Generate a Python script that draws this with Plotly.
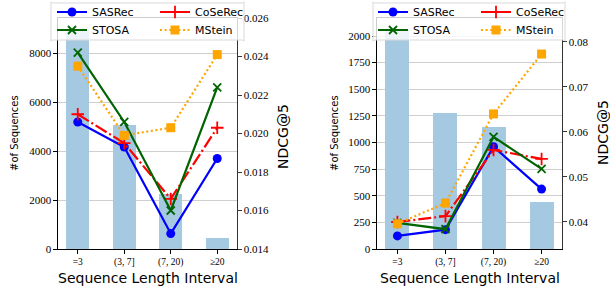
import plotly.graph_objects as go

categories = ["=3", "(3, 7]", "(7, 20)", "≥20"]

left_counts = [8940, 5060, 2245, 450]
left_sasrec = [0.0206, 0.0193, 0.0148, 0.0187]
left_coserec = [0.0210, 0.0195, 0.0166, 0.0203]
left_stosa = [0.0242, 0.0206, 0.0160, 0.0224]
left_mstein = [0.0235, 0.0199, 0.0203, 0.0241]

right_counts = [2056, 1277, 1146, 441]
right_sasrec = [0.0369, 0.0383, 0.0567, 0.0473]
right_coserec = [0.0400, 0.0413, 0.0560, 0.0540]
right_stosa = [0.0398, 0.0384, 0.0589, 0.0518]
right_mstein = [0.0396, 0.0442, 0.0640, 0.0773]

W, H = 610, 297
SERIF = "Liberation Serif, DejaVu Serif, serif"
SANS = "DejaVu Sans, sans-serif"

styles = {
    "SASRec": dict(color="#0000ff", dash="solid", symbol="circle", size=9),
    "CoSeRec": dict(color="#ff0000", dash="13px,3px,2px,3px", symbol="cross-thin", size=9),
    "STOSA": dict(color="#006400", dash="solid", symbol="x-thin", size=8),
    "MStein": dict(color="#ffa500", dash="2px,2.6px", symbol="square", size=9),
}

fig = go.Figure()


def px_x(p):
    return p / W


def px_y(p):
    return 1 - p / H


panels = [
    dict(counts=left_counts, series={"SASRec": left_sasrec, "CoSeRec": left_coserec,
                                     "STOSA": left_stosa, "MStein": left_mstein},
         xa="x", ya="y", ya2="y2", legs=("legend", "legend2")),
    dict(counts=right_counts, series={"SASRec": right_sasrec, "CoSeRec": right_coserec,
                                      "STOSA": right_stosa, "MStein": right_mstein},
         xa="x2", ya="y3", ya2="y4", legs=("legend3", "legend4")),
]

for p in panels:
    fig.add_trace(go.Bar(x=categories, y=p["counts"], xaxis=p["xa"], yaxis=p["ya"],
                         marker=dict(color="#a6c9e2", line=dict(width=0)), width=0.5,
                         showlegend=False))
    for i, (name, vals) in enumerate(p["series"].items()):
        s = styles[name]
        mk = dict(symbol=s["symbol"], size=s["size"], color=s["color"])
        if s["symbol"] in ("cross-thin", "x-thin"):
            mk["line"] = dict(width=1.8, color=s["color"])
        fig.add_trace(go.Scatter(
            x=categories, y=vals, xaxis=p["xa"], yaxis=p["ya2"], name=name,
            mode="lines+markers", line=dict(color=s["color"], width=2.2, dash=s["dash"]),
            marker=mk, legend=p["legs"][0] if name in ("SASRec", "CoSeRec") else p["legs"][1],
        ))

ydom = [px_y(249), px_y(18)]
tickfont = dict(family=SERIF, size=11, color="black")
xtickfont = dict(family=SERIF, size=9.5, color="black")

common_x = dict(type="category", range=[-0.425, 3.425], showline=True, linecolor="black",
                linewidth=1.2, mirror=True, ticks="outside", ticklen=3.5, tickcolor="black",
                tickfont=xtickfont, showgrid=False, zeroline=False, fixedrange=True,
                automargin=False)
common_y = dict(showline=True, linecolor="black", linewidth=1.2, ticks="outside", ticklen=3.5,
                tickcolor="black", tickfont=tickfont, showgrid=True, gridcolor="#cfcfcf",
                gridwidth=1, zeroline=False, automargin=False)
common_y2 = dict(side="right", showline=True, linecolor="#333333", linewidth=1.2,
                 ticks="outside", ticklen=3.5, tickcolor="#333333", tickfont=tickfont,
                 showgrid=False, zeroline=False, automargin=False)

fig.update_layout(
    width=W, height=H, margin=dict(l=0, r=0, t=0, b=0, pad=0, autoexpand=False),
    paper_bgcolor="white", plot_bgcolor="rgba(0,0,0,0)",
    bargap=0,
    xaxis=dict(domain=[px_x(58), px_x(237)], anchor="y", **common_x),
    xaxis2=dict(domain=[px_x(377), px_x(562)], anchor="y3", **common_x),
    yaxis=dict(domain=ydom, anchor="x", range=[0, 9430], tickvals=[0, 2000, 4000, 6000, 8000],
               ticktext=["0", "2000", "4000", "6000", "8000"], **common_y),
    yaxis2=dict(overlaying="y", anchor="x", range=[0.014, 0.026],
                tickvals=[0.014, 0.016, 0.018, 0.020, 0.022, 0.024, 0.026],
                ticktext=["0.014", "0.016", "0.018", "0.020", "0.022", "0.024", "0.026"],
                **common_y2),
    yaxis3=dict(domain=ydom, anchor="x2", range=[0, 2169],
                tickvals=[0, 250, 500, 750, 1000, 1250, 1500, 1750, 2000],
                ticktext=["0", "250", "500", "750", "1000", "1250", "1500", "1750", "2000"],
                **common_y),
    yaxis4=dict(overlaying="y3", anchor="x2", range=[0.034, 0.0853],
                tickvals=[0.04, 0.05, 0.06, 0.07, 0.08],
                ticktext=["0.04", "0.05", "0.06", "0.07", "0.08"], **common_y2),
    showlegend=True,
)

leg_common = dict(orientation="h", xanchor="left", yanchor="middle", bgcolor="rgba(0,0,0,0)",
                  borderwidth=0, font=dict(family=SANS, size=11, color="black"),
                  entrywidth=58, entrywidthmode="pixels", itemwidth=30, tracegroupgap=0)
fig.update_layout(
    legend=dict(x=px_x(52), y=px_y(12), **leg_common),
    legend2=dict(x=px_x(52), y=px_y(30), **leg_common),
    legend3=dict(x=px_x(373), y=px_y(12), **leg_common),
    legend4=dict(x=px_x(373), y=px_y(30), **leg_common),
)


def rounded_rect(x0, y0, x1, y1, r=3):
    return (f"M{x0 + r},{y0} L{x1 - r},{y0} Q{x1},{y0} {x1},{y0 + r} "
            f"L{x1},{y1 - r} Q{x1},{y1} {x1 - r},{y1} L{x0 + r},{y1} Q{x0},{y1} {x0},{y1 - r} "
            f"L{x0},{y0 + r} Q{x0},{y0} {x0 + r},{y0} Z")


for (bx0, bx1) in [(51, 244), (373, 565)]:
    fig.add_shape(type="path", xref="paper", yref="paper", layer="above",
                  path=rounded_rect(px_x(bx0), px_y(3), px_x(bx1), px_y(40), r=0.004),
                  fillcolor="rgba(255,255,255,0.8)", line=dict(color="#d9d9d9", width=1))

ann = []
for cx in [(58 + 237) / 2, (377 + 562) / 2]:
    ann.append(dict(text="Sequence Length Interval", x=px_x(cx), y=px_y(278), xref="paper",
                    yref="paper", showarrow=False, xanchor="center", yanchor="middle",
                    font=dict(family=SANS, size=14, color="black")))
for cx in [14, 334]:
    ann.append(dict(text="#of Sequences", x=px_x(cx), y=px_y(133), xref="paper", yref="paper",
                    showarrow=False, textangle=-90, xanchor="center", yanchor="middle",
                    font=dict(family=SANS, size=10, color="black")))
for cx, cy in [(283, 137), (603, 133)]:
    ann.append(dict(text="NDCG@5", x=px_x(cx), y=px_y(cy), xref="paper", yref="paper",
                    showarrow=False, textangle=-90, xanchor="center", yanchor="middle",
                    font=dict(family=SANS, size=14, color="black")))
fig.update_layout(annotations=ann)

fig.write_html("out.html", config={"displayModeBar": False},
               post_script="document.body.style.margin='0px';document.body.style.padding='0px';")
